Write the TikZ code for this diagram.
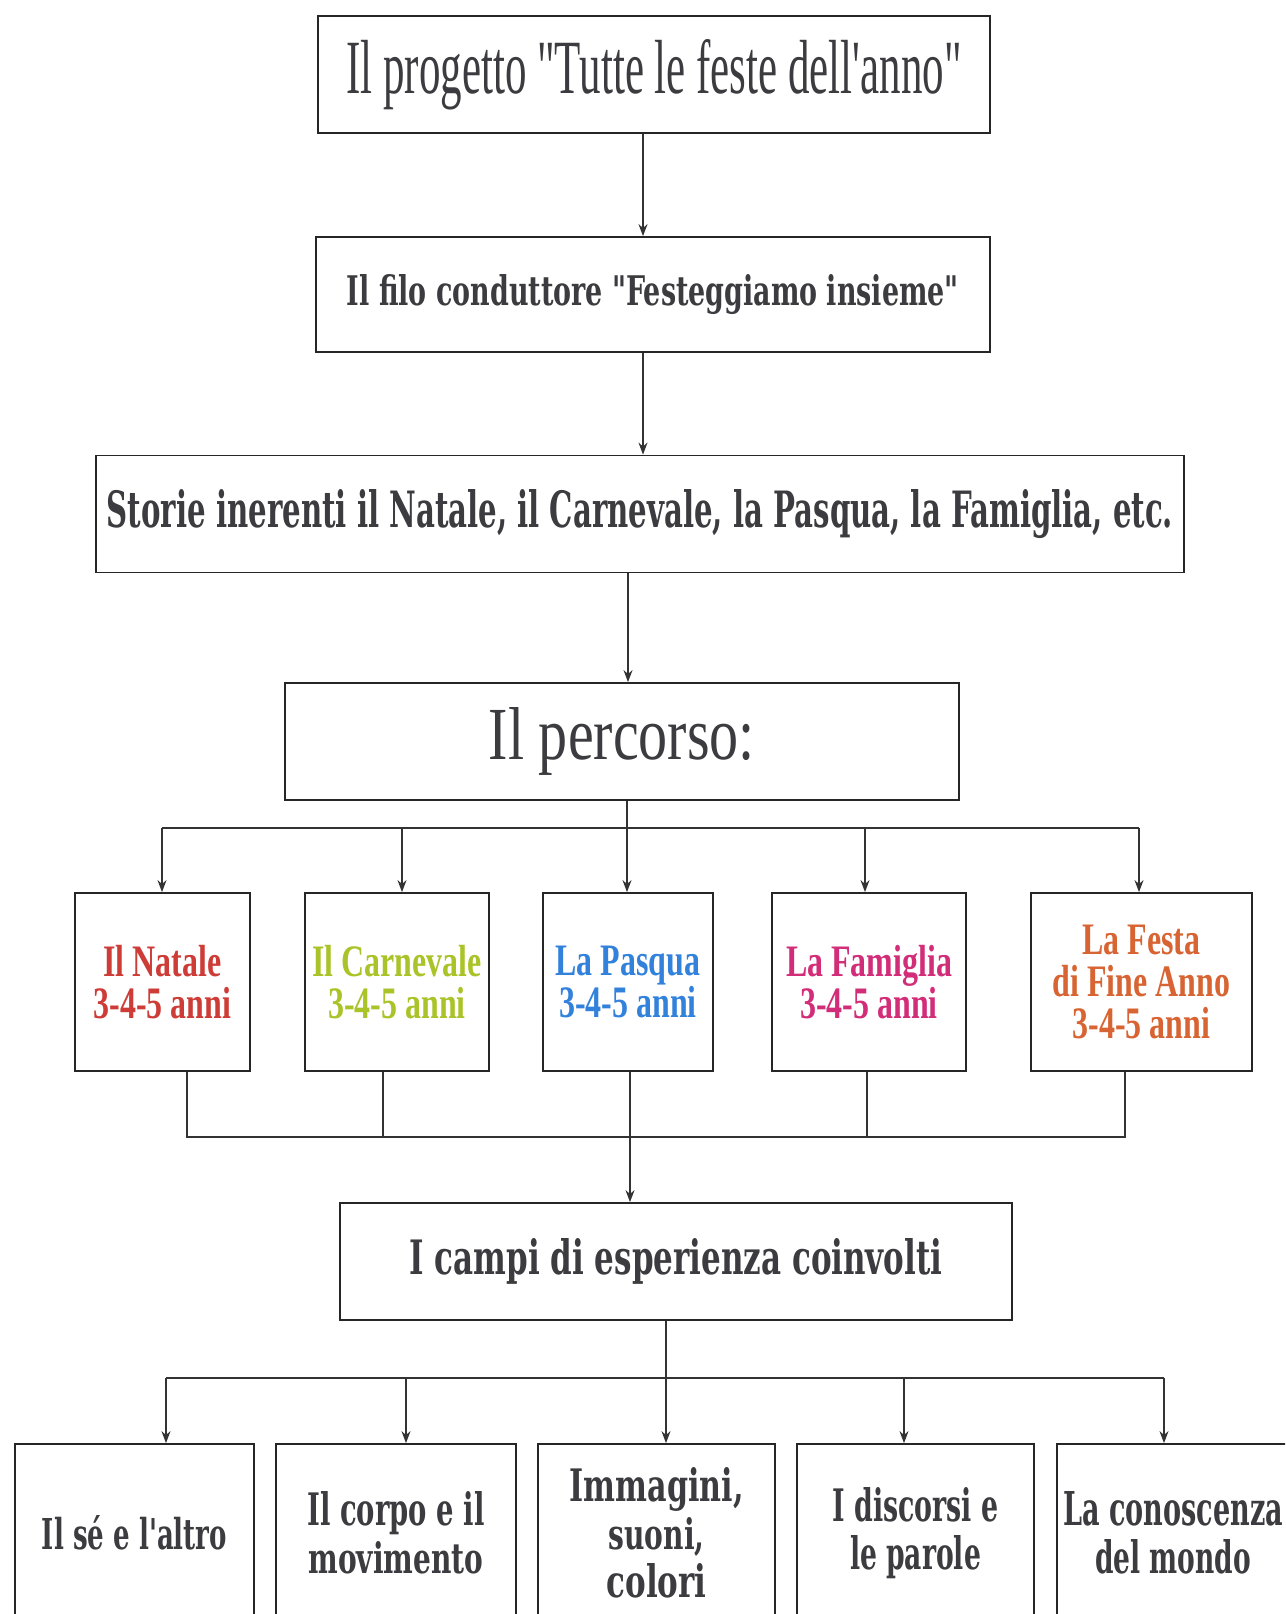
\documentclass[tikz,border=0pt]{standalone}
\usepackage{fontspec}
\setmainfont{Liberation Serif}[Ligatures=TeXOff]
\newfontfamily\centf{DejaVu Serif}[Ligatures=TeXOff]
\newfontfamily\rowf{Liberation Serif}[FakeStretch=0.71,Ligatures=TeXOff]
\usetikzlibrary{arrows.meta}
\definecolor{natred}{RGB}{205,60,55}
\definecolor{carngreen}{RGB}{170,195,40}
\definecolor{pasqblue}{RGB}{50,130,220}
\definecolor{fammag}{RGB}{210,45,120}
\definecolor{festaor}{RGB}{215,100,50}
\definecolor{inktext}{RGB}{60,60,64}
\newcommand\fitln[3]{\resizebox{#1pt}{#2pt}{#3}}
\tikzset{
  box/.style={draw=black!85, line width=1.8pt, rectangle, inner sep=0pt, align=center, text=inktext},
  conn/.style={draw=black!80, line width=1.4pt},
  arr/.style={conn, -{Stealth[length=12pt,width=9pt]}},
  rowtxt/.style={font=\rowf\bfseries\fontsize{45}{42}\selectfont},
  bottxt/.style={font=\centf\bfseries\fontsize{40}{48}\selectfont}
}
\begin{document}
\begin{tikzpicture}[x=1pt,y=-1pt]
\useasboundingbox (0,0) rectangle (1285,1614);
% top chain
\node[box, minimum width=672pt, minimum height=117pt] (t1) at (654,74.5)
  {\fitln{615}{54}{Il progetto "Tutte le feste dell'anno"}};
\node[box, minimum width=674pt, minimum height=115pt] (t2) at (653,294.5)
  {\fitln{612}{31}{\centf\bfseries Il filo conduttore "Festeggiamo insieme"}};
\node[box, minimum width=1088pt, minimum height=117pt] (t3) at (640,514)
  {\fitln{1066}{38}{\centf\bfseries Storie inerenti il Natale, il Carnevale, la Pasqua, la Famiglia, etc.}};
\node[box, minimum width=674pt, minimum height=117pt] (t4) at (622,741.5)
  {\fitln{266}{52}{Il percorso:}};
% feste row
\node[box, rowtxt, text=natred, minimum width=175pt, minimum height=178pt] (n1) at (162.5,982)
  {Il Natale\\3-4-5 anni};
\node[box, rowtxt, text=carngreen, minimum width=184pt, minimum height=178pt] (n2) at (397,982)
  {Il Carnevale\\3-4-5 anni};
\node[box, rowtxt, text=pasqblue, minimum width=170pt, minimum height=178pt] (n3) at (628,982)
  {La Pasqua\\3-4-5 anni};
\node[box, rowtxt, text=fammag, minimum width=194pt, minimum height=178pt] (n4) at (869,982)
  {La Famiglia\\3-4-5 anni};
\node[box, rowtxt, text=festaor, minimum width=221pt, minimum height=178pt] (n5) at (1141.5,982)
  {La Festa\\di Fine Anno\\3-4-5 anni};
% campi
\node[box, minimum width=672pt, minimum height=117pt] (c) at (676,1261.5)
  {\fitln{533}{36}{\centf\bfseries I campi di esperienza coinvolti}};
% bottom row (cut by the page edge)
\begin{scope}
\clip (0,0) rectangle (1285,1614);
\node[box, bottxt, minimum width=239pt, minimum height=178pt] (b1) at (134.5,1533)
  {\fitln{185}{34}{Il sé e l'altro}};
\node[box, bottxt, minimum width=240pt, minimum height=178pt] (b2) at (396,1533)
  {\fitln{177}{34}{Il corpo e il}\\\fitln{175}{32}{movimento}};
\node[box, bottxt, minimum width=237pt, minimum height=178pt] (b3) at (656.5,1533)
  {\fitln{174}{34}{Immagini,}\\\fitln{96}{32}{suoni,}\\\fitln{100}{34}{colori}};
\node[box, bottxt, minimum width=237pt, minimum height=178pt] (b4) at (915.5,1533)
  {\fitln{166}{34}{I discorsi e}\\\fitln{131}{34}{le parole}};
\node[box, bottxt, minimum width=232pt, minimum height=178pt] (b5) at (1173,1533)
  {\fitln{220}{34}{La conoscenza}\\\fitln{156}{34}{del mondo}};
\end{scope}
% x positions of connectors
\coordinate (a1) at (643,0);
\coordinate (a2) at (628,0);
\coordinate (j1) at (627,828);
\coordinate (x1) at (162,0);
\coordinate (x2) at (402,0);
\coordinate (x4) at (865,0);
\coordinate (x5) at (1139,0);
\coordinate (e1) at (187,0);
\coordinate (e2) at (383,0);
\coordinate (e4) at (867,0);
\coordinate (e5) at (1125,0);
\coordinate (j2) at (630,1137);
\coordinate (j3) at (666,1378);
\coordinate (y1) at (166,0);
\coordinate (y2) at (406,0);
\coordinate (y4) at (904,0);
\coordinate (y5) at (1164,0);
% top arrows
\draw[arr] (t1.south -| a1) -- (t2.north -| a1);
\draw[arr] (t2.south -| a1) -- (t3.north -| a1);
\draw[arr] (t3.south -| a2) -- (t4.north -| a2);
% branch to feste
\draw[conn] (t4.south -| j1) -- (j1);
\draw[conn] (j1 -| x1) -- (j1 -| x5);
\draw[arr] (j1 -| x1) -- (n1.north -| x1);
\draw[arr] (j1 -| x2) -- (n2.north -| x2);
\draw[arr] (j1) -- (n3.north -| j1);
\draw[arr] (j1 -| x4) -- (n4.north -| x4);
\draw[arr] (j1 -| x5) -- (n5.north -| x5);
% join feste to campi
\draw[conn] (n1.south -| e1) -- (j2 -| e1) -- (j2 -| e5) -- (n5.south -| e5);
\draw[conn] (n2.south -| e2) -- (j2 -| e2);
\draw[conn] (n4.south -| e4) -- (j2 -| e4);
\draw[arr] (n3.south -| j2) -- (c.north -| j2);
% branch to campi di esperienza
\draw[conn] (c.south -| j3) -- (j3);
\draw[conn] (j3 -| y1) -- (j3 -| y5);
\draw[arr] (j3 -| y1) -- (b1.north -| y1);
\draw[arr] (j3 -| y2) -- (b2.north -| y2);
\draw[arr] (j3) -- (b3.north -| j3);
\draw[arr] (j3 -| y4) -- (b4.north -| y4);
\draw[arr] (j3 -| y5) -- (b5.north -| y5);
\end{tikzpicture}
\end{document}
